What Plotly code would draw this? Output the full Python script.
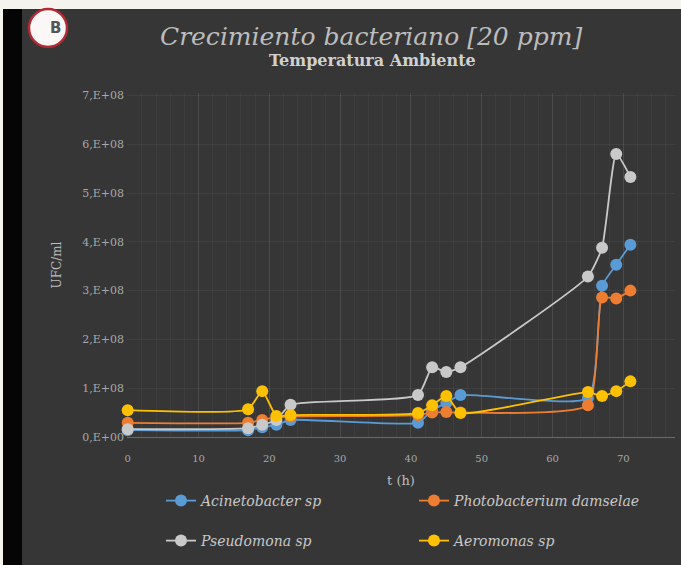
import plotly.graph_objects as go

t_h = [0, 17, 19, 21, 23, 41, 43, 45, 47, 65, 67, 69, 71]
acinetobacter = [0.14e8, 0.14e8, 0.20e8, 0.25e8, 0.35e8, 0.29e8, 0.55e8, 0.70e8, 0.86e8, 0.80e8, 3.10e8, 3.53e8, 3.94e8]
photobacterium = [0.29e8, 0.29e8, 0.35e8, 0.40e8, 0.42e8, 0.45e8, 0.50e8, 0.51e8, 0.50e8, 0.65e8, 2.86e8, 2.84e8, 3.00e8]
pseudomona = [0.16e8, 0.18e8, 0.25e8, 0.35e8, 0.66e8, 0.86e8, 1.43e8, 1.33e8, 1.43e8, 3.29e8, 3.88e8, 5.80e8, 5.33e8]
aeromonas = [0.55e8, 0.57e8, 0.94e8, 0.43e8, 0.45e8, 0.49e8, 0.65e8, 0.84e8, 0.49e8, 0.92e8, 0.84e8, 0.94e8, 1.14e8]

series_names = ["Acinetobacter sp", "Photobacterium damselae", "Pseudomona sp", "Aeromonas sp"]
series_values = [acinetobacter, photobacterium, pseudomona, aeromonas]
series_colors = ["#5b9bd5", "#ed7d31", "#c9c9c9", "#ffc000"]
series_legend = ["legend", "legend2", "legend3", "legend4"]

y_tickvals = [0, 1e8, 2e8, 3e8, 4e8, 5e8, 6e8, 7e8]
y_ticktext = ["0,E+00", "1,E+08", "2,E+08", "3,E+08", "4,E+08", "5,E+08", "6,E+08", "7,E+08"]
x_tickvals = [0, 10, 20, 30, 40, 50, 60, 70]

serif = "DejaVu Serif, Liberation Serif, serif"

L, T, B_, R = 127, 93, 128, 6
W, H = 681, 565
PW, PH = W - L - R, H - T - B_


def px(xp):
    return (xp - L) / PW


def py(yp):
    return (H - B_ - yp) / PH


fig = go.Figure()
for name, vals, col, lg in zip(series_names, series_values, series_colors, series_legend):
    fig.add_trace(go.Scatter(
        x=t_h, y=vals, name="<i>" + name + "</i>", mode="lines+markers",
        line=dict(color=col, width=1.8, shape="spline", smoothing=0.5),
        marker=dict(color=col, size=12, line=dict(width=0)),
        cliponaxis=False, legend=lg,
    ))

leg_font = dict(family=serif, size=14, color="#c8c8c8")
leg_pos = {"legend": (161, 485), "legend2": (414, 485), "legend3": (161, 525), "legend4": (414, 525)}
leg_layout = {}
for k, (lx, ly) in leg_pos.items():
    leg_layout[k] = dict(x=px(lx), y=py(ly), xanchor="left", yanchor="top",
                         font=leg_font, bgcolor="rgba(0,0,0,0)")

fig.update_layout(
    width=W, height=H,
    margin=dict(l=L, r=R, t=T, b=B_),
    paper_bgcolor="#363636",
    plot_bgcolor="rgba(0,0,0,0)",
    font=dict(family=serif, color="#bdbdbd", size=10),
    showlegend=True,
    xaxis=dict(range=[-0.1, 77.3], tickvals=x_tickvals, showgrid=True,
               gridcolor="rgba(255,255,255,0.07)", zeroline=False,
               showline=True, linecolor="#6a6a6a", linewidth=1,
               tickfont=dict(size=10, color="#a8a8a8"), ticklabelstandoff=12,
               minor=dict(dtick=2, showgrid=True, gridcolor="rgba(255,255,255,0.035)"),
               title=dict(text="t (h)", font=dict(size=13, color="#bdbdbd"), standoff=12)),
    yaxis=dict(range=[0, 7.05e8], tickvals=y_tickvals, ticktext=y_ticktext,
               showgrid=True, gridcolor="rgba(255,255,255,0.05)", zeroline=False,
               tickfont=dict(size=11, color="#a8a8a8"), ticklabelstandoff=2,
               title=dict(text="UFC/ml", font=dict(size=12, color="#bdbdbd"), standoff=18)),
    **leg_layout,
)

# title & subtitle
fig.add_annotation(text="<i>Crecimiento bacteriano [20 ppm]</i>", xref="paper", yref="paper",
                   x=px(371), y=py(37), yanchor="middle", showarrow=False,
                   font=dict(family=serif, size=25, color="#bcbcbc"))
fig.add_annotation(text="<b>Temperatura Ambiente</b>", xref="paper", yref="paper",
                   x=px(372), y=py(60), yanchor="middle", showarrow=False,
                   font=dict(family=serif, size=16, color="#d0d0d0"))

# frame decorations: light top strip, black left strip, badge
fig.add_shape(type="rect", xref="paper", yref="paper", x0=px(0), x1=px(W), y0=py(9), y1=py(0),
              fillcolor="#f5f3ee", line=dict(width=0), layer="below")
fig.add_shape(type="rect", xref="paper", yref="paper", x0=px(3), x1=px(22), y0=py(H), y1=py(9),
              fillcolor="#050505", line=dict(width=0), layer="below")
fig.add_shape(type="rect", xref="paper", yref="paper", x0=px(0), x1=px(3), y0=py(H), y1=py(0),
              fillcolor="#f5f3ee", line=dict(width=0), layer="below")
fig.add_shape(type="circle", xref="paper", yref="paper",
              x0=px(29), x1=px(67), y0=py(47), y1=py(9),
              fillcolor="#fbf7f7", line=dict(color="#b02a35", width=2.5))
fig.add_annotation(text="<b>B</b>", xref="paper", yref="paper",
                   x=px(48), y=py(28), yanchor="middle", showarrow=False,
                   font=dict(family="DejaVu Sans, sans-serif", size=15, color="#555555"))

fig.write_html("out.html", config={"displayModeBar": False},
               post_script="document.body.style.margin='0';document.body.style.overflow='hidden';")
